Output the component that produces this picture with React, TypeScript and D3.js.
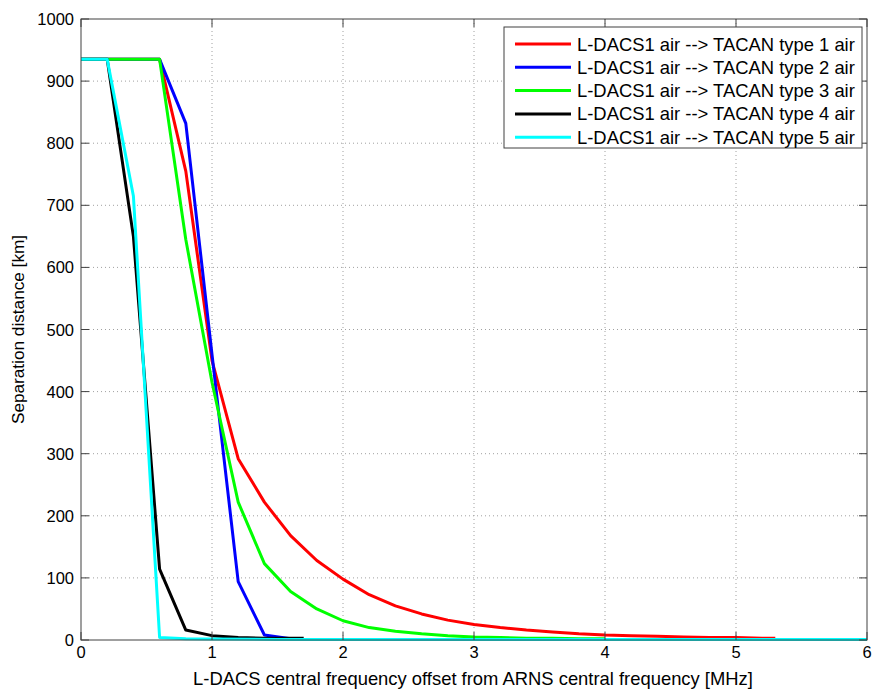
import React from 'react';
import * as d3 from 'd3';

// values
const redX = [0, 0.2, 0.4, 0.6, 0.8, 1.0, 1.2, 1.4, 1.6, 1.8, 2.0, 2.2, 2.4, 2.6, 2.8, 3.0, 3.2, 3.4, 3.6, 3.8, 4.0, 4.2, 4.4, 4.6, 4.8, 5.0, 5.2, 5.3];
const redY = [935, 935, 935, 935, 755, 450, 292, 222, 168, 128, 98, 73, 55, 42, 32, 25, 20, 16, 13, 10, 8, 7, 6, 5, 4, 4, 3, 3];

const blueX = [0, 0.2, 0.4, 0.6, 0.8, 1.0, 1.2, 1.4, 1.6];
const blueY = [935, 935, 935, 935, 832, 460, 94, 8, 2];

const greenX = [0, 0.2, 0.4, 0.6, 0.8, 1.0, 1.2, 1.4, 1.6, 1.8, 2.0, 2.2, 2.4, 2.6, 2.8, 3.0, 3.2, 3.4, 3.6, 3.8, 4.0];
const greenY = [935, 935, 935, 935, 645, 415, 222, 123, 78, 50, 31, 20, 14, 10, 7, 5, 4, 3, 3, 2, 2];

const blackX = [0, 0.2, 0.4, 0.6, 0.8, 1.0, 1.2, 1.4, 1.6, 1.7];
const blackY = [935, 935, 650, 114, 16, 7, 4, 3, 3, 3];

const cyanX = [0, 0.2, 0.4, 0.6, 0.8, 1.0, 1.5, 2.0, 3.0, 4.0, 5.0, 6.0];
const cyanY = [935, 935, 715, 4, 2, 1.5, 1, 1, 1, 1, 1, 1];

const seriesNames = [
  'L-DACS1 air --> TACAN type 1 air',
  'L-DACS1 air --> TACAN type 2 air',
  'L-DACS1 air --> TACAN type 3 air',
  'L-DACS1 air --> TACAN type 4 air',
  'L-DACS1 air --> TACAN type 5 air',
];
const seriesColors = ['#ff0000', '#0000ff', '#00ff00', '#000000', '#00ffff'];

const xTicks = [0, 1, 2, 3, 4, 5, 6];
const yTicks = [0, 100, 200, 300, 400, 500, 600, 700, 800, 900, 1000];

const W = 874;
const H = 690;
const M = { left: 81, right: 7, top: 19, bottom: 50 };

export default function App() {
  const x = d3.scaleLinear().domain([0, 6]).range([M.left, W - M.right]);
  const y = d3.scaleLinear().domain([0, 1000]).range([H - M.bottom, M.top]);

  const series = [
    { xs: redX, ys: redY },
    { xs: blueX, ys: blueY },
    { xs: greenX, ys: greenY },
    { xs: blackX, ys: blackY },
    { xs: cyanX, ys: cyanY },
  ];

  const line = d3
    .line<[number, number]>()
    .x(d => x(d[0]))
    .y(d => y(d[1]));

  const x0 = x(0), x1 = x(6), y0 = y(0), y1 = y(1000);
  const tick = 8;
  const font = 'Liberation Sans, Arial, sans-serif';

  return (
    <svg width={W} height={H} style={{ position: 'absolute', left: 0, top: 0, background: '#fff' }}>
      <rect x={0} y={0} width={W} height={H} fill="#fff" />
      {/* grid */}
      <g stroke="#a0a0a0" strokeWidth={1} strokeDasharray="1,3">
        {xTicks.slice(1, -1).map(t => (
          <line key={'gx' + t} x1={x(t)} x2={x(t)} y1={y0} y2={y1} />
        ))}
        {yTicks.slice(1, -1).map(t => (
          <line key={'gy' + t} x1={x0} x2={x1} y1={y(t)} y2={y(t)} />
        ))}
      </g>

      {/* lines */}
      <g fill="none" strokeWidth={3} strokeLinejoin="round">
        {series.map((s, i) => (
          <path
            key={i}
            d={line(s.xs.map((v, j) => [v, s.ys[j]] as [number, number])) || ''}
            stroke={seriesColors[i]}
          />
        ))}
      </g>

      {/* box + ticks */}
      <g stroke="#404040" strokeWidth={1} fill="none">
        <rect x={x0} y={y1} width={x1 - x0} height={y0 - y1} />
        {xTicks.map(t => (
          <g key={'tx' + t}>
            <line x1={x(t)} x2={x(t)} y1={y0} y2={y0 - tick} />
            <line x1={x(t)} x2={x(t)} y1={y1} y2={y1 + tick} />
          </g>
        ))}
        {yTicks.map(t => (
          <g key={'ty' + t}>
            <line x1={x0} x2={x0 + tick} y1={y(t)} y2={y(t)} />
            <line x1={x1} x2={x1 - tick} y1={y(t)} y2={y(t)} />
          </g>
        ))}
      </g>

      {/* tick labels */}
      <g fontFamily={font} fontSize={16.5} fill="#000">
        {xTicks.map(t => (
          <text key={'lx' + t} x={x(t)} y={y0 + 18} textAnchor="middle">
            {t}
          </text>
        ))}
        {yTicks.map(t => (
          <text key={'ly' + t} x={x0 - 7} y={y(t) + 6} textAnchor="end">
            {t}
          </text>
        ))}
        <text x={(x0 + x1) / 2 - 1} y={H - 5} textAnchor="middle" fontSize={18.4}>
          L-DACS central frequency offset from ARNS central frequency [MHz]
        </text>
        <text transform={`translate(24, ${(y0 + y1) / 2}) rotate(-90)`} textAnchor="middle" fontSize={17.2}>
          Separation distance [km]
        </text>
      </g>

      {/* legend */}
      <g>
        <rect x={504} y={27} width={358} height={121} fill="#fff" stroke="#404040" strokeWidth={1} />
        {seriesNames.map((name, i) => (
          <g key={name} transform={`translate(0, ${44 + i * 23.3})`}>
            <line x1={515} x2={571} y1={0} y2={0} stroke={seriesColors[i]} strokeWidth={3} />
            <text x={577} y={6.5} fontFamily={font} fontSize={18.4} fill="#000">
              {name}
            </text>
          </g>
        ))}
      </g>
    </svg>
  );
}
